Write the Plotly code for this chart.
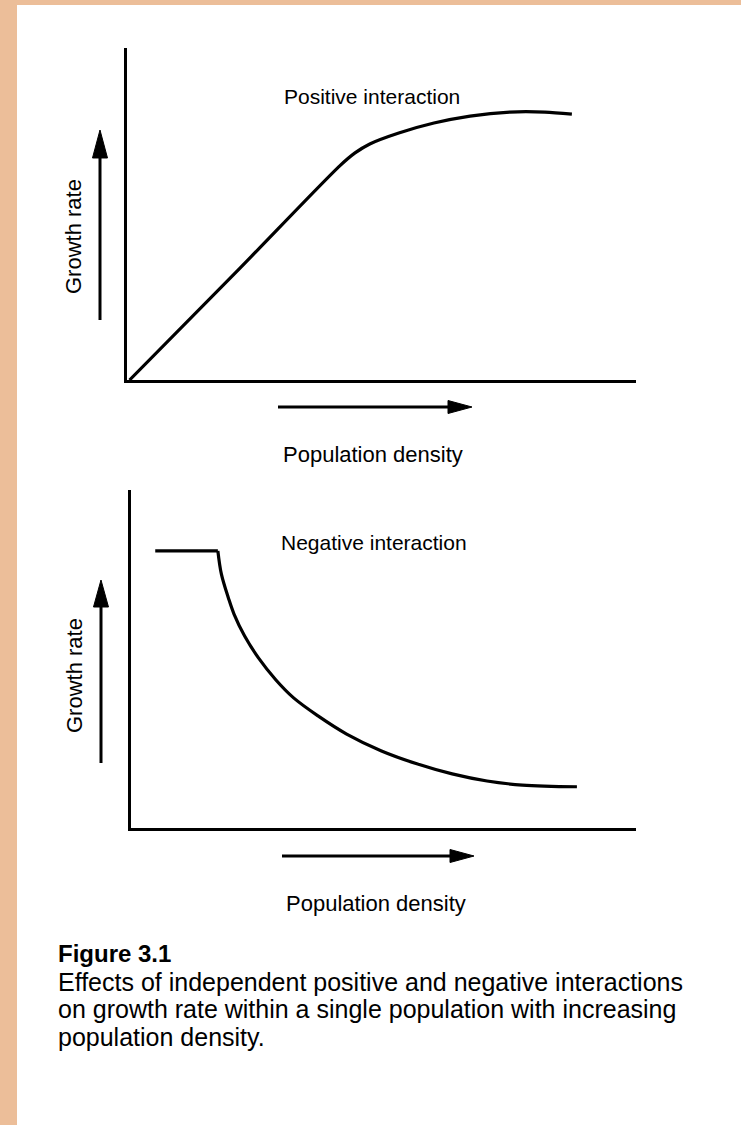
import plotly.graph_objects as go

W, H = 741, 1125

# ---- data (arbitrary units 0-100) ----
pos_density = [0.5, 22.2, 41.8, 44.8, 47.7, 53.4, 60.3, 67.4, 75.2, 82.1, 87.4]
pos_growth = [0.0, 33.7, 64.5, 68.4, 71.1, 74.4, 77.4, 79.5, 80.7, 80.7, 80.1]

neg_plateau_density = [4.8, 17.2]
neg_plateau_growth = [82.0, 82.0]
neg_density = [17.2, 17.9, 19.3, 20.4, 22.5, 25.2, 28.7, 32.2, 37.1, 42.7,
               49.6, 56.6, 63.6, 70.5, 77.5, 88.3]
neg_growth = [82.0, 75.1, 68.0, 63.3, 56.8, 50.4, 43.8, 38.5, 33.1, 27.8,
              22.8, 19.0, 16.0, 13.9, 12.7, 12.2]

panel_titles = ["Positive interaction", "Negative interaction"]
x_label = "Population density"
y_label = "Growth rate"
caption_title = "Figure 3.1"
caption_lines = [
    "Effects of independent positive and negative interactions",
    "on growth rate within a single population with increasing",
    "population density.",
]

FONT = "Liberation Sans, Arial, Helvetica, sans-serif"
TAN = "#ECBE99"


def px(x):
    return x / W


def py(y):
    return 1 - y / H


fig = go.Figure()

line_style = dict(color="black", width=3.2)
fig.add_trace(go.Scatter(x=pos_density, y=pos_growth, mode="lines",
                         line=dict(shape="spline", smoothing=0.8, **line_style),
                         xaxis="x", yaxis="y", hoverinfo="skip"))
fig.add_trace(go.Scatter(x=neg_plateau_density, y=neg_plateau_growth, mode="lines",
                         line=line_style, xaxis="x2", yaxis="y2", hoverinfo="skip"))
fig.add_trace(go.Scatter(x=neg_density, y=neg_growth, mode="lines",
                         line=dict(shape="spline", smoothing=1.0, **line_style),
                         xaxis="x2", yaxis="y2", hoverinfo="skip"))

axis_common = dict(showline=True, linewidth=3, linecolor="black", showgrid=False,
                   zeroline=False, showticklabels=False, ticks="", range=[0, 100],
                   fixedrange=True)

layout = dict(
    width=W, height=H, autosize=False,
    margin=dict(l=0, r=0, t=0, b=0),
    paper_bgcolor="white", plot_bgcolor="rgba(0,0,0,0)",
    showlegend=False,
    xaxis=dict(domain=[px(127), px(636)], anchor="y", **axis_common),
    yaxis=dict(domain=[py(380), py(48)], anchor="x", **axis_common),
    xaxis2=dict(domain=[px(131), px(636)], anchor="y2", **axis_common),
    yaxis2=dict(domain=[py(828), py(490)], anchor="x2", **axis_common),
)

shapes = [
    # scanned page tan border
    dict(type="rect", xref="paper", yref="paper", x0=0, x1=px(17), y0=0, y1=1,
         fillcolor=TAN, line=dict(width=0), layer="above"),
    dict(type="rect", xref="paper", yref="paper", x0=0, x1=1, y0=py(5), y1=1,
         fillcolor=TAN, line=dict(width=0), layer="above"),
]


def arrow(x0, y0, x1, y1, head_len, head_w):
    """Arrow from pixel (x0,y0) to tip (x1,y1)."""
    out = []
    dx, dy = x1 - x0, y1 - y0
    L = (dx * dx + dy * dy) ** 0.5
    ux, uy = dx / L, dy / L
    bx, by = x1 - ux * head_len, y1 - uy * head_len
    nx, ny = -uy, ux
    out.append(dict(type="line", xref="paper", yref="paper",
                    x0=px(x0), y0=py(y0), x1=px(bx), y1=py(by),
                    line=dict(color="black", width=3)))
    p1 = (bx + nx * head_w / 2, by + ny * head_w / 2)
    p2 = (bx - nx * head_w / 2, by - ny * head_w / 2)
    path = "M{:.5f},{:.5f} L{:.5f},{:.5f} L{:.5f},{:.5f} Z".format(
        px(x1), py(y1), px(p1[0]), py(p1[1]), px(p2[0]), py(p2[1]))
    out.append(dict(type="path", xref="paper", yref="paper", path=path,
                    fillcolor="black", line=dict(color="black", width=1)))
    return out


shapes += arrow(100, 320, 100, 130, 28, 15)
shapes += arrow(278, 407, 472, 407, 24, 13)
shapes += arrow(101, 763, 101, 580, 27, 15)
shapes += arrow(282, 856, 474, 856, 24, 13)

layout["shapes"] = shapes

ann = []


def text(t, x, y, size, xanchor="center", bold=False, angle=0):
    ann.append(dict(text=("<b>%s</b>" % t) if bold else t, x=px(x), y=py(y),
                    xref="paper", yref="paper", showarrow=False,
                    xanchor=xanchor, yanchor="middle", textangle=angle,
                    font=dict(family=FONT, size=size, color="black")))


text(panel_titles[0], 372, 97, 21)
text(panel_titles[1], 374, 542, 21)
text(x_label, 373, 455, 22)
text(x_label, 376, 903, 22)
text(y_label, 73, 237, 22, angle=-90)
text(y_label, 74, 676, 22, angle=-90)

text(caption_title, 56, 953, 24, xanchor="left", bold=True)
for i, line in enumerate(caption_lines):
    text(line, 56, 981.5 + 27.5 * i, 25, xanchor="left")

layout["annotations"] = ann
fig.update_layout(**layout)

fig.write_html(
    "out.html",
    config={"displayModeBar": False, "staticPlot": True},
    post_script="document.body.style.margin='0';document.body.style.overflow='hidden';",
)
